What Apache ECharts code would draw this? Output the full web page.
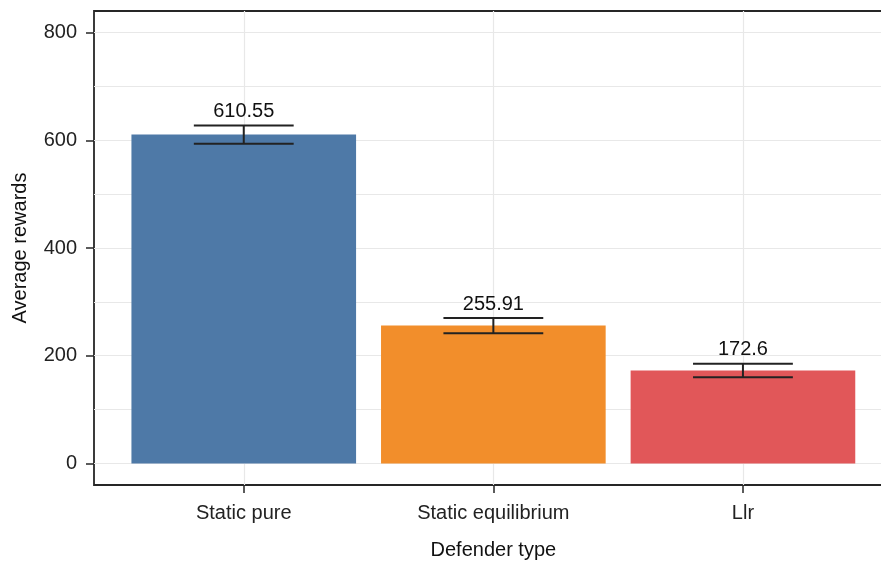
<!DOCTYPE html>
<html>
<head>
<meta charset="utf-8">
<script src="https://cdn.jsdelivr.net/npm/echarts@6/dist/echarts.min.js"></script>
<style>
  html, body { margin: 0; padding: 0; background: #fff; }
  #chart { width: 881px; height: 562px; }
</style>
</head>
<body>
<div id="chart"></div>
<script>
// Average reward per defender type, with standard-error bars
const categories = ['Static pure', 'Static equilibrium', 'Llr'];
const means = [610.55, 255.91, 172.6];
const errors = [17, 14, 12.4];
const barColors = ['#4e79a7', '#f28e2b', '#e15759'];
const yMajorTicks = [0, 200, 400, 600, 800];
const yMinorTicks = [100, 300, 500, 700];

// Panel geometry (discrete x scale expanded by 0.6 units on each side)
const xMin = 0.4, xMax = 3.6;
const yMin = -40, yMax = 840;
const gridLeft = 94, gridTop = 11, gridWidth = 798.7, gridHeight = 474;
const unitPx = gridWidth / (xMax - xMin);
const barWidthUnits = 0.9;
const capWidthUnits = 0.4;

const xPositions = categories.map((_, i) => i + 1);
const barData = means.map((m, i) => ({
  value: [xPositions[i], m],
  itemStyle: { color: barColors[i] }
}));
const errData = means.map((m, i) => [xPositions[i], m - errors[i], m + errors[i], m]);

const fontFamily = '"Liberation Sans", Arial, Helvetica, sans-serif';
const fontSize = 20;
const gridColor = '#e8e8e8';
const inkColor = '#262626';

const chart = echarts.init(document.getElementById('chart'), null, { renderer: 'canvas' });

chart.setOption({
  animation: false,
  backgroundColor: '#ffffff',
  grid: {
    left: gridLeft, top: gridTop, width: gridWidth, height: gridHeight,
    outerBoundsMode: 'none', containLabel: false,
    show: true, borderColor: inkColor, borderWidth: 1.8, backgroundColor: 'transparent'
  },
  xAxis: {
    type: 'value', min: xMin, max: xMax,
    name: 'Defender type', nameLocation: 'middle', nameGap: 55,
    nameTextStyle: { fontFamily, fontSize, color: '#111' },
    axisLine: { show: false, onZero: false },
    axisTick: { show: true, customValues: xPositions, length: 8, lineStyle: { color: inkColor, width: 1.5 } },
    axisLabel: {
      customValues: xPositions, margin: 18,
      fontFamily, fontSize, color: '#222',
      formatter: v => categories[Math.round(v) - 1] || ''
    },
    splitLine: { show: true, lineStyle: { color: gridColor, width: 1.2 } }
  },
  yAxis: [
    {
      type: 'value', min: yMin, max: yMax,
      name: 'Average rewards', nameLocation: 'middle', nameGap: 64,
      nameTextStyle: { fontFamily, fontSize, color: '#111' },
      axisLine: { show: false, onZero: false },
      axisTick: { show: true, customValues: yMajorTicks, length: 8, lineStyle: { color: inkColor, width: 1.5 } },
      axisLabel: { customValues: yMajorTicks, margin: 17, fontFamily, fontSize, color: '#222' },
      splitLine: { show: true, lineStyle: { color: gridColor, width: 1.2 } }
    },
    {
      type: 'value', min: yMin, max: yMax,
      axisLine: { show: false, onZero: false },
      axisTick: { show: false, customValues: yMinorTicks },
      axisLabel: { show: false, customValues: yMinorTicks },
      splitLine: { show: true, lineStyle: { color: gridColor, width: 1.2 } }
    }
  ],
  series: [
    {
      type: 'bar',
      xAxisIndex: 0, yAxisIndex: 0,
      barWidth: barWidthUnits * unitPx,
      data: barData,
      z: 2
    },
    {
      type: 'custom',
      xAxisIndex: 0, yAxisIndex: 0,
      data: errData,
      z: 3,
      renderItem: (params, api) => {
        const x = api.value(0);
        const lo = api.value(1), hi = api.value(2), mean = api.value(3);
        const pHi = api.coord([x, hi]);
        const pLo = api.coord([x, lo]);
        const half = api.size([capWidthUnits, 0])[0] / 2;
        const style = { stroke: '#222', lineWidth: 2 };
        return {
          type: 'group',
          children: [
            { type: 'line', shape: { x1: pHi[0] - half, y1: pHi[1], x2: pHi[0] + half, y2: pHi[1] }, style },
            { type: 'line', shape: { x1: pLo[0] - half, y1: pLo[1], x2: pLo[0] + half, y2: pLo[1] }, style },
            { type: 'line', shape: { x1: pHi[0], y1: pHi[1], x2: pLo[0], y2: pLo[1] }, style },
            {
              type: 'text',
              style: {
                x: pHi[0], y: pHi[1] - 4,
                text: String(mean),
                align: 'center', verticalAlign: 'bottom',
                font: fontSize + 'px ' + fontFamily, fill: '#111'
              }
            }
          ]
        };
      }
    }
  ]
});
</script>
</body>
</html>
